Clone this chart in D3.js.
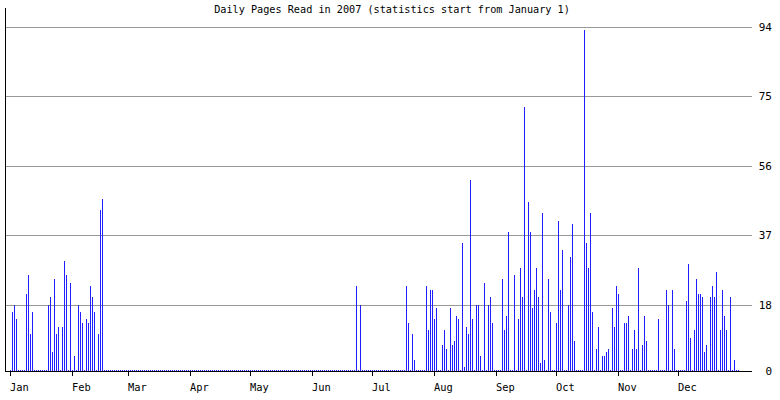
<!DOCTYPE html>
<html>
<head>
<meta charset="utf-8">
<script src="https://cdn.jsdelivr.net/npm/d3@7"></script>
<style>
  html, body { margin: 0; padding: 0; background: #fff; }
  svg { display: block; }
  text { font-family: "DejaVu Sans Mono", "Liberation Mono", monospace; fill: #000; }
</style>
</head>
<body>
<svg id="chart" width="780" height="400"></svg>
<script>
// ---- data (pages read per day, 2007) ----
const title = "Daily Pages Read in 2007 (statistics start from January 1)";
const monthLabels = ["Jan","Feb","Mar","Apr","May","Jun","Jul","Aug","Sep","Oct","Nov","Dec"];
const monthStartDay = [0,31,59,90,120,151,181,212,243,273,304,334];
const yTickLabels = [0,18,37,56,75,94];
const yMax = 94;

const jan = [0,16,18,14,0,0,0,0,21,26,10,16,0,0,0,0,0,0,0,18,20,5,25,10,12,0,12,30,26,0,24];
const feb = [0,4,0,18,16,13,0,14,13,23,20,16,0,10,44,47,0,0,0,0,0,0,0,0,0,0,0,0];
const mar = [0,0,0,0,0,0,0,0,0,0,0,0,0,0,0,0,0,0,0,0,0,0,0,0,0,0,0,0,0,0,0];
const apr = [0,0,0,0,0,0,0,0,0,0,0,0,0,0,0,0,0,0,0,0,0,0,0,0,0,0,0,0,0,0];
const may = [0,0,0,0,0,0,0,0,0,0,0,0,0,0,0,0,0,0,0,0,0,0,0,0,0,0,0,0,0,0,0];
const jun = [0,0,0,0,0,0,0,0,0,0,0,0,0,0,0,0,0,0,0,0,0,0,23,0,18,0,0,0,0,0];
const jul = [0,0,0,0,0,0,0,0,0,0,0,0,0,0,0,0,0,23,13,0,10,3,0,0,0,0,0,23,11,22,22];
const aug = [14,17,0,0,7,11,6,0,17,7,8,15,14,0,35,1,12,10,52,14,0,18,18,4,0,24,0,18,20,13,0];
const sep = [0,0,0,25,11,15,38,0,0,26,0,14,28,20,72,0,46,38,17,22,28,20,2,43,3,0,25,16,0,0];
const oct = [13,41,22,33,0,0,18,31,40,8,0,0,0,0,93,35,28,43,16,0,6,12,0,4,4,5,6,0,17,12,23];
const nov = [21,0,0,13,13,15,0,6,11,6,28,0,7,15,8,0,0,0,0,0,14,0,0,0,22,18,0,22,6,0];
const dec = [0,0,0,0,19,29,9,0,11,25,21,21,20,5,7,0,20,23,20,27,0,11,22,15,11,0,20,0,3,0,0];

const pages = [].concat(jan,feb,mar,apr,may,jun,jul,aug,sep,oct,nov,dec);

// ---- layout ----
const svg = d3.select("#chart");
const plotLeft = 5, plotRight = 752;
const x = d3.scaleLinear().domain([0, 365]).range([10, 740]);
const y = d3.scaleLinear().domain([0, yMax]).range([370.6, 26.6]);

svg.append("text")
  .attr("x", 392).attr("y", 13)
  .attr("text-anchor", "middle")
  .style("font-size", "10.2px")
  .text(title);

// gridlines + right labels
const grid = svg.append("g").attr("shape-rendering", "crispEdges");
yTickLabels.filter(v => v > 0).forEach(v => {
  const yy = Math.round(y(v)) + 0.5;
  grid.append("line")
    .attr("x1", plotLeft).attr("x2", plotRight)
    .attr("y1", yy).attr("y2", yy)
    .attr("stroke", "#999").attr("stroke-width", 1);
});
yTickLabels.forEach(v => {
  svg.append("text")
    .attr("x", 772).attr("y", Math.round(y(v)) + 4)
    .attr("text-anchor", "end")
    .style("font-size", "11px")
    .text(v);
});

// bars
svg.append("g").attr("shape-rendering", "crispEdges")
  .selectAll("rect").data(pages).join("rect")
  .attr("x", (d, i) => x(i))
  .attr("width", 1)
  .attr("y", d => d > 0 ? Math.round(y(d)) : 370)
  .attr("height", d => d > 0 ? 371 - Math.round(y(d)) : 1)
  .attr("fill", "#1f1fff");

// axes lines
const ax = svg.append("g").attr("shape-rendering", "crispEdges");
ax.append("line").attr("x1", plotLeft + 0.5).attr("x2", plotLeft + 0.5)
  .attr("y1", 8).attr("y2", 372).attr("stroke", "#000");
ax.append("line").attr("x1", plotLeft).attr("x2", plotRight)
  .attr("y1", 371.5).attr("y2", 371.5).attr("stroke", "#000");

// month ticks + labels
monthStartDay.forEach((d, i) => {
  const xx = x(d) + 0.5;
  ax.append("line").attr("x1", xx).attr("x2", xx)
    .attr("y1", 371).attr("y2", 376).attr("stroke", "#000");
  svg.append("text")
    .attr("x", x(d)).attr("y", 391)
    .style("font-size", "10.4px")
    .text(monthLabels[i]);
});
</script>
</body>
</html>
